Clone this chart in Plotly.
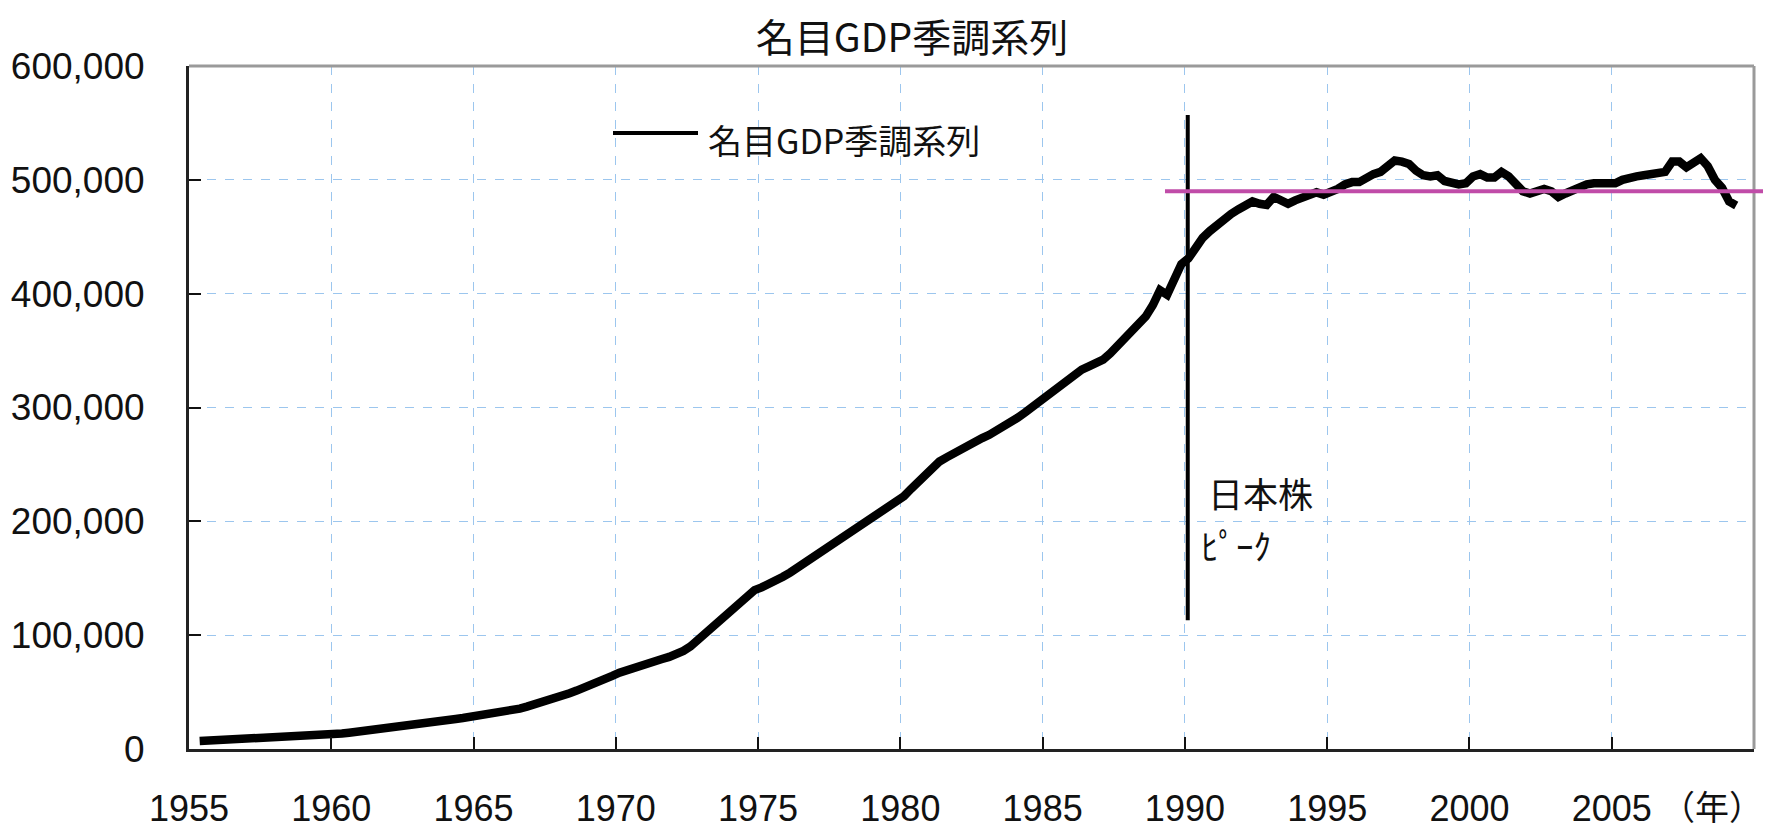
import plotly.graph_objects as go

# ---------------- data ----------------
title_text = "名目GDP季調系列"
series_name = "名目GDP季調系列"
peak_label_top = "日本株"
peak_label_bottom = "ﾋﾟｰｸ"
x_unit_label = "（年）"

start_year = 1955
start_quarter = 2

# quarterly nominal GDP, seasonally adjusted, from 1955Q2
gdp_values = [
    7000, 7300, 7600,                    # 1955 (Q2-Q4)
    7900, 8200, 8500, 8800,              # 1956
    9200, 9500, 9700, 9800,              # 1957
    9900, 10000, 10100, 10300,           # 1958
    10600, 11100, 11700, 12300,          # 1959
    13000, 13600, 14300, 15000,          # 1960
    15800, 16700, 17500, 18200,          # 1961
    18800, 19300, 19800, 20400,          # 1962
    21200, 22100, 23000, 23800,          # 1963
    25200, 26400, 27200, 28100,          # 1964
    29000, 29600, 30400, 31300,          # 1965
    32400, 33800, 35500, 37200,          # 1966
    38900, 40700, 42600, 44600,          # 1967
    46800, 49000, 51300, 53500,          # 1968
    56200, 58900, 61600, 64200,          # 1969
    67000, 69300, 71500, 73600,          # 1970
    75400, 77200, 79000, 80900,          # 1971
    83000, 86200, 90100, 95500,          # 1972
    101000, 106800, 112500, 117800,      # 1973
    123500, 129700, 135300, 139600,      # 1974
    142000, 144600, 147800, 151300,      # 1975
    155000, 159200, 163400, 167500,      # 1976
    171600, 175600, 179600, 183700,      # 1977
    188000, 192500, 196800, 200900,      # 1978
    204800, 208600, 212800, 217200,      # 1979
    222000, 228500, 235200, 241800,      # 1980
    248000, 252600, 256200, 260000,      # 1981
    263500, 266700, 270000, 273100,      # 1982
    276000, 279300, 283000, 287000,      # 1983
    291000, 295500, 300300, 305200,      # 1984
    310000, 315600, 321000, 326000,      # 1985
    330000, 333300, 336200, 339000,      # 1986
    342000, 347500, 354300, 361000,      # 1987
    367000, 373000, 380000, 390000,      # 1988
    403000, 399000, 412000, 426000,      # 1989
    431000, 441000, 449000, 455000,      # 1990
    460000, 467000, 470000, 474000,      # 1991
    477000, 481000, 479000, 478000,      # 1992
    485000, 482000, 479000, 482000,      # 1993
    485000, 488000, 489000, 487000,      # 1994
    489000, 492000, 496000, 498000,      # 1995
    498000, 502000, 505000, 507000,      # 1996
    511000, 517000, 516000, 514000,      # 1997
    508000, 504000, 503000, 504000,      # 1998
    499000, 497000, 496000, 497000,      # 1999
    503000, 505000, 502000, 502000,      # 2000
    507000, 503000, 496000, 490000,      # 2001
    488000, 490000, 492000, 490000,      # 2002
    485000, 488000, 491000, 493000,      # 2003
    496000, 497000, 497000, 497000,      # 2004
    497000, 500000, 502000, 503000,      # 2005
    504000, 505000, 506000, 507000,      # 2006
    516000, 516000, 511000, 515000,      # 2007
    519000, 512000, 500000, 493000,      # 2008
    481000, 477500,                      # 2009 (Q1-Q2)
]

x_tick_values = [1955, 1960, 1965, 1970, 1975, 1980, 1985, 1990, 1995, 2000, 2005, 2010]
x_tick_labels = ["1955", "1960", "1965", "1970", "1975", "1980", "1985", "1990",
                 "1995", "2000", "2005", ""]
y_tick_values = [0, 100000, 200000, 300000, 400000, 500000, 600000]
y_tick_labels = ["0", "100,000", "200,000", "300,000", "400,000", "500,000", "600,000"]

x_range = [1955, 2010]
y_range = [0, 600000]

peak_year = 1990.1
peak_line_span = [113000, 557000]
plateau_level = 490000
plateau_start = 1989.3
peak_label_top_pos = (1990.75, 225500)
peak_label_bottom_pos = (1990.5, 180000)

# ---------------- figure ----------------
quarter_x = []
yr, q = start_year, start_quarter
for _ in gdp_values:
    quarter_x.append(yr + (q - 0.5) / 4)
    q += 1
    if q > 4:
        q = 1
        yr += 1

# the page places the figure 8 px in from the top-left (body margin)
OFF = 8
W, H = 1771, 831
PLOT_L, PLOT_R, PLOT_T, PLOT_B = 189, 1754, 66, 749   # target page pixels
ML = PLOT_L - OFF
MT = PLOT_T - OFF
plot_w = PLOT_R - PLOT_L
plot_h = PLOT_B - PLOT_T
MR = W - ML - plot_w
MB = H - MT - plot_h

def px_to_paper_x(px):
    return (px - PLOT_L) / plot_w

def px_to_paper_y(py):
    return (PLOT_B - py) / plot_h

y_num_font = dict(family="Liberation Sans, Arial, sans-serif", size=37, color="#111111")
x_num_font = dict(family="Liberation Sans, Arial, sans-serif", size=36, color="#111111")
jp_font = "Noto Sans CJK JP, sans-serif"
grid_color = "#9CC6EE"

fig = go.Figure()
fig.add_trace(go.Scatter(
    x=quarter_x, y=gdp_values, mode="lines", name=series_name,
    line=dict(color="black", width=8.5), showlegend=False,
))

fig.update_layout(
    width=W, height=H, autosize=False,
    margin=dict(l=ML, r=MR, t=MT, b=MB, pad=0, autoexpand=False),
    paper_bgcolor="white", plot_bgcolor="white",
    title=dict(text=title_text, x=(912 - OFF) / W, xref="container", xanchor="center",
               y=1 - (38 - OFF) / H, yref="container", yanchor="middle",
               font=dict(family=jp_font, size=39, color="#111111")),
    showlegend=False,
)

fig.update_xaxes(
    range=x_range, tickmode="array", tickvals=x_tick_values, ticktext=x_tick_labels,
    ticks="inside", ticklen=12, tickwidth=2, tickcolor="#111111",
    showline=True, linecolor="#222222", linewidth=3,
    showgrid=True, gridcolor=grid_color, gridwidth=1, griddash="dash",
    zeroline=False, tickfont=x_num_font, ticklabelstandoff=26, automargin=False,
)
fig.update_yaxes(
    range=y_range, tickmode="array", tickvals=y_tick_values, ticktext=y_tick_labels,
    ticks="inside", ticklen=12, tickwidth=2, tickcolor="#111111",
    showline=True, linecolor="#222222", linewidth=3,
    showgrid=True, gridcolor=grid_color, gridwidth=1, griddash="dash",
    zeroline=False, tickfont=y_num_font, ticklabelstandoff=34, automargin=False,
)

# grey top and right frame
fig.add_shape(type="line", xref="paper", yref="paper", x0=0, x1=1, y0=1, y1=1,
              line=dict(color="#9A9A9A", width=3))
fig.add_shape(type="line", xref="paper", yref="paper", x0=1, x1=1, y0=0, y1=1,
              line=dict(color="#9A9A9A", width=3))

# stock peak vertical line
fig.add_shape(type="line", xref="x", yref="y", x0=peak_year, x1=peak_year,
              y0=peak_line_span[0], y1=peak_line_span[1],
              line=dict(color="black", width=4))

# plateau line (extends past the frame to the page edge)
x0p = (plateau_start - x_range[0]) / (x_range[1] - x_range[0])
yp = (plateau_level - y_range[0]) / (y_range[1] - y_range[0])
fig.add_shape(type="line", xref="paper", yref="paper", x0=x0p, x1=1.02, y0=yp, y1=yp,
              line=dict(color="#C04CA8", width=4))

# manual legend
fig.add_shape(type="line", xref="paper", yref="paper",
              x0=px_to_paper_x(613), x1=px_to_paper_x(698),
              y0=px_to_paper_y(133), y1=px_to_paper_y(133),
              line=dict(color="black", width=4))
fig.add_annotation(text=series_name, xref="paper", yref="paper",
                   x=px_to_paper_x(706), y=px_to_paper_y(139),
                   xanchor="left", yanchor="middle", showarrow=False,
                   font=dict(family=jp_font, size=34, color="#111111"))

# peak label
fig.add_annotation(text=peak_label_top, xref="x", yref="y",
                   x=peak_label_top_pos[0], y=peak_label_top_pos[1],
                   xanchor="left", yanchor="middle", showarrow=False,
                   font=dict(family=jp_font, size=35, color="#111111"))
fig.add_annotation(text=peak_label_bottom, xref="x", yref="y",
                   x=peak_label_bottom_pos[0], y=peak_label_bottom_pos[1],
                   xanchor="left", yanchor="middle", showarrow=False,
                   font=dict(family=jp_font, size=35, color="#111111"))

# x unit label
fig.add_annotation(text=x_unit_label, xref="paper", yref="paper",
                   x=px_to_paper_x(1765), y=px_to_paper_y(805),
                   xanchor="right", yanchor="middle", showarrow=False,
                   font=dict(family=jp_font, size=34, color="#111111"))

fig.write_html("out.html")
